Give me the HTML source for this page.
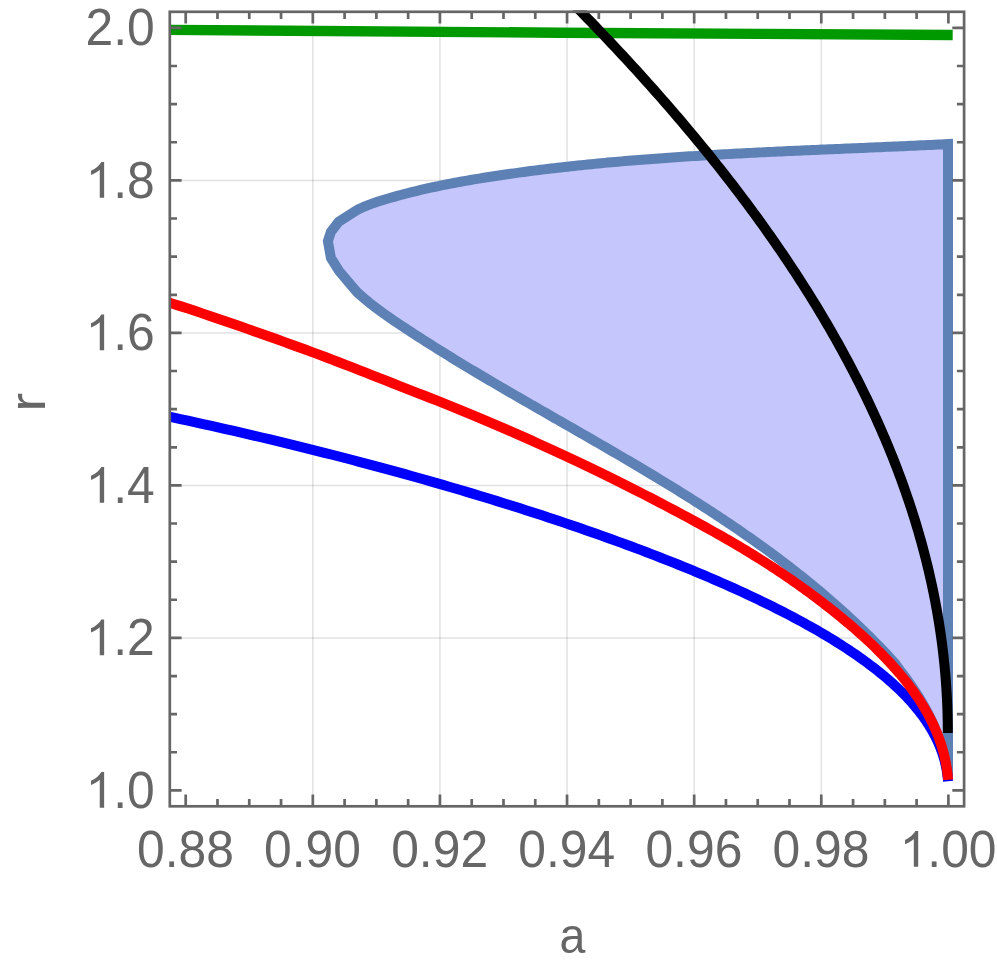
<!DOCTYPE html>
<html><head><meta charset="utf-8"><title>plot</title>
<style>html,body{margin:0;padding:0;background:#fff;}body{width:997px;height:967px;overflow:hidden;font-family:"Liberation Sans",sans-serif;}svg{display:block}</style>
</head><body>
<svg width="997" height="967" viewBox="0 0 997 967">
<rect width="997" height="967" fill="#fff"/>
<defs><clipPath id="pc"><rect x="169.8" y="10.50" width="794.3" height="795.80"/></clipPath></defs>
<path d="M312.82,11.8 V806.3 M439.93,11.8 V806.3 M567.05,11.8 V806.3 M694.17,11.8 V806.3 M821.28,11.8 V806.3" stroke="#666" stroke-opacity="0.19" stroke-width="1.5" fill="none"/>
<path d="M169.8,637.90 H964.1 M169.8,485.40 H964.1 M169.8,332.90 H964.1 M169.8,180.40 H964.1" stroke="#666" stroke-opacity="0.19" stroke-width="1.5" fill="none"/>
<g clip-path="url(#pc)" fill="none" stroke-linejoin="round">
<path d="M948.00,144.08 L944.45,144.25 L941.08,144.42 L937.71,144.58 L934.33,144.74 L930.96,144.90 L927.58,145.06 L924.20,145.22 L920.83,145.37 L917.45,145.53 L914.07,145.68 L910.68,145.83 L907.30,145.99 L903.92,146.14 L900.53,146.28 L897.14,146.43 L893.76,146.58 L890.37,146.73 L886.98,146.87 L883.59,147.02 L880.20,147.16 L876.80,147.31 L873.41,147.45 L870.02,147.59 L866.62,147.74 L863.23,147.88 L859.83,148.02 L856.43,148.17 L853.04,148.31 L849.64,148.45 L846.24,148.59 L842.84,148.74 L839.44,148.88 L836.04,149.02 L832.63,149.17 L829.23,149.31 L825.83,149.45 L822.43,149.60 L819.02,149.74 L815.62,149.89 L812.21,150.04 L808.81,150.18 L805.40,150.33 L802.00,150.48 L798.59,150.63 L795.18,150.78 L791.78,150.93 L788.37,151.09 L784.96,151.24 L781.56,151.40 L778.15,151.56 L774.74,151.71 L771.33,151.87 L767.92,152.04 L764.52,152.20 L761.11,152.37 L757.70,152.53 L754.29,152.70 L750.88,152.87 L747.47,153.04 L744.07,153.22 L740.66,153.39 L737.25,153.57 L733.84,153.75 L730.43,153.94 L727.03,154.12 L723.62,154.31 L720.21,154.50 L716.81,154.69 L713.40,154.89 L709.99,155.09 L706.59,155.29 L703.18,155.49 L699.78,155.70 L696.37,155.91 L692.97,156.12 L689.56,156.33 L686.16,156.55 L682.76,156.77 L679.36,157.00 L675.95,157.23 L672.55,157.46 L669.15,157.69 L665.75,157.93 L662.35,158.17 L658.96,158.42 L655.56,158.67 L652.16,158.92 L648.77,159.18 L645.37,159.44 L641.97,159.70 L638.58,159.97 L635.19,160.25 L631.80,160.52 L628.41,160.80 L625.01,161.09 L621.63,161.38 L618.24,161.67 L614.85,161.97 L611.46,162.27 L608.08,162.58 L604.69,162.89 L601.31,163.21 L597.93,163.53 L594.55,163.86 L591.17,164.19 L587.79,164.53 L584.41,164.87 L581.04,165.22 L577.66,165.57 L574.29,165.93 L570.92,166.29 L567.55,166.66 L564.18,167.03 L560.81,167.41 L557.45,167.79 L554.08,168.18 L550.72,168.58 L547.36,168.98 L544.00,169.39 L540.64,169.80 L537.28,170.22 L533.92,170.64 L530.57,171.08 L527.22,171.51 L523.87,171.96 L520.52,172.41 L517.17,172.86 L513.83,173.33 L510.48,173.79 L507.14,174.27 L503.80,174.75 L500.46,175.24 L497.13,175.74 L493.79,176.24 L490.46,176.75 L487.13,177.27 L483.80,177.80 L480.47,178.33 L477.14,178.88 L473.82,179.43 L470.49,180.00 L467.16,180.57 L463.84,181.16 L460.52,181.76 L457.19,182.37 L453.87,182.99 L450.55,183.63 L447.22,184.27 L443.90,184.94 L440.58,185.61 L437.25,186.30 L433.93,187.01 L430.61,187.73 L427.28,188.47 L423.95,189.22 L420.63,189.99 L417.30,190.78 L413.97,191.59 L410.64,192.41 L407.31,193.25 L403.97,194.11 L400.64,194.99 L397.30,195.89 L393.96,196.82 L390.62,197.76 L387.27,198.72 L383.93,199.71 L380.60,200.73 L377.28,201.79 L373.98,202.90 L370.72,204.08 L367.49,205.31 L364.30,206.62 L361.17,208.02 L358.10,209.50 L355.50,211.10 L338.70,221.70 L330.90,231.90 L327.90,241.20 L330.90,258.00 L339.00,270.90 L352.20,286.40 L356.90,291.91 L359.42,294.22 L361.97,296.49 L364.55,298.71 L367.16,300.89 L369.80,303.03 L372.46,305.14 L375.15,307.21 L377.86,309.25 L380.59,311.27 L383.34,313.26 L386.10,315.22 L388.88,317.17 L391.67,319.10 L394.47,321.01 L397.29,322.90 L400.11,324.79 L402.93,326.67 L405.76,328.54 L408.59,330.40 L411.43,332.26 L414.27,334.11 L417.12,335.95 L419.97,337.79 L422.83,339.62 L425.68,341.45 L428.55,343.27 L431.41,345.08 L434.28,346.89 L437.16,348.69 L440.03,350.49 L442.91,352.28 L445.80,354.06 L448.69,355.85 L451.58,357.62 L454.47,359.39 L457.37,361.16 L460.27,362.92 L463.17,364.68 L466.07,366.43 L468.98,368.18 L471.89,369.93 L474.81,371.67 L477.72,373.41 L480.64,375.15 L483.56,376.88 L486.49,378.61 L489.41,380.33 L492.34,382.05 L495.27,383.77 L498.20,385.49 L501.14,387.20 L504.07,388.92 L507.01,390.63 L509.95,392.33 L512.89,394.04 L515.83,395.74 L518.78,397.45 L521.72,399.15 L524.67,400.84 L527.62,402.54 L530.57,404.24 L533.52,405.94 L536.47,407.63 L539.42,409.32 L542.37,411.02 L545.33,412.71 L548.28,414.40 L551.24,416.10 L554.19,417.79 L557.15,419.48 L560.11,421.17 L563.06,422.87 L566.02,424.56 L568.98,426.25 L571.94,427.95 L574.89,429.64 L577.85,431.34 L580.81,433.04 L583.76,434.74 L586.72,436.44 L589.68,438.14 L592.63,439.84 L595.59,441.55 L598.54,443.25 L601.49,444.96 L604.44,446.67 L607.39,448.38 L610.34,450.10 L613.29,451.81 L616.24,453.53 L619.18,455.25 L622.13,456.97 L625.07,458.70 L628.01,460.43 L630.95,462.16 L633.89,463.89 L636.82,465.63 L639.75,467.37 L642.69,469.12 L645.61,470.86 L648.54,472.62 L651.46,474.37 L654.38,476.13 L657.30,477.89 L660.22,479.66 L663.13,481.43 L666.04,483.20 L668.95,484.98 L671.85,486.76 L674.75,488.55 L677.65,490.34 L680.54,492.14 L683.43,493.94 L686.32,495.75 L689.20,497.56 L692.08,499.38 L694.95,501.20 L697.82,503.03 L700.69,504.86 L703.55,506.70 L706.41,508.54 L709.27,510.39 L712.12,512.25 L714.96,514.11 L717.80,515.98 L720.64,517.85 L723.47,519.73 L726.30,521.62 L729.12,523.52 L731.93,525.42 L734.74,527.32 L737.55,529.24 L740.35,531.16 L743.15,533.09 L745.94,535.02 L748.72,536.96 L751.50,538.91 L754.27,540.87 L757.04,542.84 L759.80,544.81 L762.55,546.79 L765.30,548.78 L768.04,550.78 L770.77,552.78 L773.50,554.80 L776.22,556.82 L778.94,558.85 L781.65,560.89 L784.35,562.94 L787.05,564.99 L789.73,567.06 L792.41,569.13 L795.09,571.22 L797.75,573.31 L800.41,575.42 L803.06,577.53 L805.71,579.65 L808.34,581.78 L810.97,583.92 L813.59,586.07 L816.20,588.23 L818.81,590.41 L821.40,592.59 L823.99,594.78 L826.57,596.98 L829.14,599.20 L831.70,601.42 L834.26,603.65 L836.80,605.90 L839.34,608.16 L841.86,610.43 L844.38,612.70 L846.89,614.99 L849.39,617.30 L851.88,619.61 L854.36,621.94 L856.84,624.27 L859.30,626.62 L861.75,628.98 L864.19,631.36 L866.63,633.74 L869.05,636.14 L871.46,638.55 L873.86,640.97 L876.26,643.41 L878.64,645.85 L881.01,648.31 L883.37,650.79 L885.72,653.28 L888.06,655.78 L890.39,658.29 L892.71,660.82 L895.02,663.36 L900.00,670.26 L901.42,672.10 L902.82,673.92 L904.19,675.75 L905.55,677.58 L906.88,679.40 L908.20,681.22 L909.49,683.03 L910.76,684.85 L912.01,686.66 L913.24,688.47 L914.45,690.28 L915.64,692.09 L916.80,693.89 L917.95,695.69 L919.07,697.49 L920.17,699.29 L921.25,701.09 L922.31,702.88 L923.35,704.68 L924.37,706.47 L925.37,708.26 L926.34,710.05 L927.30,711.84 L928.23,713.62 L929.14,715.41 L930.04,717.19 L930.91,718.97 L931.75,720.75 L932.58,722.53 L933.39,724.31 L934.18,726.09 L934.94,727.87 L935.68,729.64 L936.41,731.42 L937.11,733.19 L937.79,734.97 L938.45,736.74 L939.08,738.51 L939.70,740.28 L940.30,742.03 L940.87,743.74 L941.42,745.46 L941.96,747.18 L942.47,748.90 L942.96,750.62 L943.43,752.35 L943.87,754.07 L944.30,755.80 L944.71,757.53 L945.09,759.27 L945.45,761.00 L945.80,762.74 L946.12,764.48 L946.42,766.22 L946.70,767.97 L946.95,769.72 L947.19,771.47 L947.41,773.22 L947.60,774.98 L948.00,776.00 Z" fill="#c5c7fc" stroke="#5e81b5" stroke-width="10.0" stroke-linejoin="miter"/>
<path d="M165.00,415.78 L172.69,417.42 L180.34,419.06 L187.95,420.71 L195.52,422.36 L203.06,424.02 L210.56,425.69 L218.02,427.36 L225.44,429.04 L232.82,430.72 L240.17,432.41 L247.48,434.10 L254.75,435.80 L261.98,437.50 L269.18,439.21 L276.33,440.92 L283.45,442.64 L290.53,444.36 L297.57,446.09 L304.58,447.82 L311.55,449.55 L318.48,451.29 L325.37,453.03 L332.22,454.77 L339.04,456.52 L345.82,458.28 L352.56,460.03 L359.26,461.79 L365.92,463.55 L372.55,465.32 L379.14,467.09 L385.69,468.86 L392.20,470.63 L398.67,472.41 L405.11,474.18 L411.51,475.97 L417.87,477.75 L424.19,479.54 L430.48,481.32 L436.72,483.11 L442.93,484.91 L449.10,486.70 L455.24,488.50 L461.33,490.29 L467.39,492.09 L473.41,493.90 L479.39,495.70 L485.34,497.50 L491.24,499.31 L497.11,501.12 L502.94,502.92 L508.73,504.73 L514.49,506.54 L520.20,508.36 L525.88,510.17 L531.52,511.98 L537.12,513.80 L542.69,515.61 L548.22,517.43 L553.71,519.24 L559.16,521.06 L564.57,522.88 L569.95,524.70 L575.28,526.52 L580.58,528.34 L585.84,530.16 L591.07,531.98 L596.25,533.80 L601.40,535.62 L606.51,537.44 L611.58,539.26 L616.62,541.08 L621.61,542.90 L626.57,544.73 L631.49,546.55 L636.37,548.37 L641.22,550.19 L646.03,552.01 L650.79,553.83 L655.53,555.66 L660.22,557.48 L664.87,559.30 L669.49,561.12 L674.07,562.94 L678.61,564.76 L683.12,566.58 L687.58,568.40 L692.01,570.22 L696.40,572.05 L700.75,573.87 L705.06,575.69 L709.34,577.50 L713.58,579.32 L717.78,581.14 L721.94,582.96 L726.07,584.78 L730.15,586.60 L734.20,588.42 L738.21,590.24 L742.18,592.05 L746.12,593.87 L750.02,595.69 L753.87,597.51 L757.70,599.32 L761.48,601.14 L765.22,602.96 L768.93,604.77 L772.60,606.59 L776.23,608.41 L779.83,610.22 L783.38,612.04 L786.90,613.86 L790.38,615.67 L793.82,617.49 L797.23,619.31 L800.59,621.12 L803.92,622.94 L807.21,624.76 L810.47,626.58 L813.68,628.39 L816.86,630.21 L820.00,632.03 L823.10,633.85 L826.16,635.67 L829.19,637.49 L832.17,639.31 L835.12,641.13 L838.03,642.95 L840.91,644.78 L843.74,646.60 L846.54,648.42 L849.30,650.25 L852.02,652.07 L854.71,653.90 L857.35,655.73 L859.96,657.56 L862.53,659.39 L865.06,661.22 L867.56,663.05 L870.01,664.89 L872.43,666.72 L874.81,668.56 L877.16,670.40 L879.46,672.24 L881.73,674.08 L883.96,675.93 L886.15,677.77 L888.30,679.62 L890.42,681.47 L892.50,683.33 L894.54,685.18 L896.54,687.04 L898.50,688.90 L900.43,690.76 L902.32,692.63 L904.17,694.50 L905.98,696.37 L907.75,698.24 L909.49,700.12 L911.19,702.00 L912.85,703.88 L914.47,705.77 L916.06,707.66 L917.60,709.55 L919.11,711.45 L920.58,713.35 L922.02,715.26 L923.41,717.17 L924.77,719.08 L926.09,721.00 L927.37,722.92 L928.61,724.85 L929.82,726.78 L930.99,728.72 L932.12,730.66 L933.21,732.61 L934.26,734.56 L935.28,736.52 L936.26,738.48 L937.20,740.45 L938.10,742.42 L938.97,744.40 L939.79,746.38 L940.58,748.38 L941.33,750.37 L942.05,752.38 L942.72,754.39 L943.36,756.41 L943.96,758.43 L944.52,760.46 L945.04,762.50 L945.53,764.55 L945.98,766.60 L946.39,768.66 L946.76,770.73 L947.09,772.81 L947.39,774.89 L947.65,776.99 L947.87,779.09 L948.05,781.20" stroke="#0000ff" stroke-width="10.0"/>
<path d="M165.00,301.21 L172.68,303.65 L180.33,306.12 L187.93,308.60 L195.50,311.10 L203.03,313.62 L210.52,316.15 L217.98,318.69 L225.40,321.23 L232.77,323.78 L240.12,326.33 L247.42,328.88 L254.68,331.43 L261.91,333.98 L269.10,336.53 L276.25,339.08 L283.37,341.63 L290.45,344.18 L297.48,346.73 L304.48,349.29 L311.45,351.86 L318.37,354.44 L325.26,357.03 L332.11,359.62 L338.92,362.23 L345.69,364.84 L352.43,367.46 L359.13,370.08 L365.79,372.69 L372.41,375.30 L378.99,377.89 L385.54,380.47 L392.05,383.02 L398.52,385.56 L404.95,388.08 L411.35,390.57 L417.70,393.06 L424.02,395.53 L430.30,397.99 L436.55,400.45 L442.75,402.91 L448.92,405.37 L455.05,407.84 L461.14,410.31 L467.20,412.79 L473.22,415.28 L479.19,417.77 L485.13,420.28 L491.04,422.79 L496.90,425.30 L502.73,427.82 L508.52,430.33 L514.27,432.85 L519.98,435.38 L525.66,437.90 L531.30,440.42 L536.90,442.94 L542.46,445.46 L547.99,447.98 L553.47,450.49 L558.92,453.01 L564.33,455.52 L569.71,458.03 L575.04,460.54 L580.34,463.05 L585.60,465.55 L590.82,468.05 L596.00,470.55 L601.15,473.05 L606.26,475.54 L611.33,478.03 L616.36,480.51 L621.35,483.00 L626.31,485.48 L631.23,487.95 L636.11,490.42 L640.95,492.89 L645.76,495.34 L650.53,497.80 L655.26,500.25 L659.95,502.69 L664.60,505.13 L669.22,507.56 L673.80,509.98 L678.34,512.39 L682.84,514.80 L687.30,517.20 L691.73,519.60 L696.12,521.99 L700.47,524.37 L704.78,526.75 L709.06,529.12 L713.30,531.49 L717.50,533.86 L721.66,536.22 L725.78,538.58 L729.87,540.94 L733.92,543.30 L737.93,545.66 L741.90,548.03 L745.84,550.39 L749.73,552.76 L753.59,555.13 L757.41,557.50 L761.20,559.88 L764.94,562.26 L768.65,564.64 L772.32,567.02 L775.95,569.41 L779.55,571.80 L783.10,574.19 L786.62,576.58 L790.10,578.97 L793.54,581.36 L796.95,583.76 L800.32,586.15 L803.64,588.53 L806.94,590.92 L810.19,593.30 L813.41,595.68 L816.58,598.06 L819.72,600.44 L822.83,602.81 L825.89,605.17 L828.92,607.53 L831.90,609.89 L834.86,612.24 L837.77,614.59 L840.64,616.93 L843.48,619.27 L846.28,621.60 L849.04,623.93 L851.76,626.26 L854.45,628.58 L857.10,630.90 L859.71,633.21 L862.28,635.52 L864.81,637.83 L867.31,640.13 L869.77,642.43 L872.19,644.73 L874.57,647.02 L876.92,649.31 L879.23,651.60 L881.50,653.89 L883.73,656.17 L885.92,658.45 L888.08,660.73 L890.19,663.01 L892.27,665.28 L894.32,667.56 L896.32,669.83 L898.29,672.10 L900.22,674.37 L902.11,676.64 L903.96,678.91 L905.78,681.18 L907.55,683.44 L909.29,685.71 L910.99,687.97 L912.66,690.24 L914.28,692.51 L915.87,694.77 L917.42,697.04 L918.93,699.30 L920.41,701.57 L921.85,703.83 L923.25,706.10 L924.61,708.37 L925.93,710.64 L927.21,712.91 L928.46,715.18 L929.67,717.45 L930.84,719.72 L931.98,722.00 L933.07,724.28 L934.13,726.56 L935.15,728.84 L936.13,731.12 L937.08,733.40 L937.99,735.69 L938.85,737.98 L939.69,740.27 L940.48,742.57 L941.23,744.87 L941.95,747.17 L942.63,749.47 L943.27,751.78 L943.88,754.09 L944.44,756.41 L944.97,758.72 L945.46,761.05 L945.92,763.37 L946.33,765.71 L946.71,768.04 L947.05,770.38 L947.35,772.73 L947.61,775.08 L947.84,777.44 L948.02,779.80" stroke="#ff0000" stroke-width="10.0"/>
<path d="M165,29.8 L560,32.7 L760,33.9 L952.7,35.0" stroke="#009900" stroke-width="10.4"/>
<path d="M569.52,0.00 L573.17,3.68 L576.80,7.37 L580.41,11.05 L584.01,14.73 L587.59,18.42 L591.16,22.10 L594.71,25.78 L598.25,29.47 L601.77,33.15 L605.28,36.83 L608.77,40.52 L612.24,44.20 L615.70,47.88 L619.14,51.57 L622.57,55.25 L625.98,58.93 L629.38,62.62 L632.75,66.30 L636.12,69.98 L639.46,73.67 L642.79,77.35 L646.11,81.04 L649.41,84.72 L652.69,88.40 L655.96,92.09 L659.20,95.77 L662.44,99.45 L665.65,103.14 L668.85,106.82 L672.04,110.50 L675.20,114.19 L678.36,117.87 L681.49,121.55 L684.61,125.24 L687.71,128.92 L690.79,132.60 L693.86,136.29 L696.91,139.97 L699.94,143.65 L702.96,147.34 L705.95,151.02 L708.94,154.70 L711.90,158.39 L714.85,162.07 L717.78,165.75 L720.69,169.44 L723.59,173.12 L726.47,176.80 L729.33,180.49 L732.18,184.17 L735.00,187.85 L737.81,191.54 L740.60,195.22 L743.38,198.90 L746.14,202.59 L748.88,206.27 L751.60,209.95 L754.30,213.64 L756.99,217.32 L759.66,221.01 L762.31,224.69 L764.95,228.37 L767.56,232.06 L770.16,235.74 L772.74,239.42 L775.30,243.11 L777.85,246.79 L780.38,250.47 L782.89,254.16 L785.38,257.84 L787.85,261.52 L790.30,265.21 L792.74,268.89 L795.16,272.57 L797.56,276.26 L799.94,279.94 L802.31,283.62 L804.65,287.31 L806.98,290.99 L809.29,294.67 L811.58,298.36 L813.86,302.04 L816.11,305.72 L818.35,309.41 L820.56,313.09 L822.76,316.77 L824.94,320.46 L827.11,324.14 L829.25,327.82 L831.37,331.51 L833.48,335.19 L835.57,338.87 L837.64,342.56 L839.69,346.24 L841.72,349.92 L843.73,353.61 L845.73,357.29 L847.70,360.97 L849.66,364.66 L851.60,368.34 L853.52,372.03 L855.42,375.71 L857.30,379.39 L859.16,383.08 L861.01,386.76 L862.83,390.44 L864.64,394.13 L866.43,397.81 L868.19,401.49 L869.94,405.18 L871.67,408.86 L873.39,412.54 L875.08,416.23 L876.75,419.91 L878.40,423.59 L880.04,427.28 L881.65,430.96 L883.25,434.64 L884.83,438.33 L886.39,442.01 L887.92,445.69 L889.44,449.38 L890.94,453.06 L892.43,456.74 L893.89,460.43 L895.33,464.11 L896.75,467.79 L898.16,471.48 L899.54,475.16 L900.91,478.84 L902.25,482.53 L903.58,486.21 L904.88,489.89 L906.17,493.58 L907.44,497.26 L908.69,500.94 L909.92,504.63 L911.13,508.31 L912.32,511.99 L913.49,515.68 L914.64,519.36 L915.77,523.05 L916.88,526.73 L917.98,530.41 L919.05,534.10 L920.10,537.78 L921.14,541.46 L922.15,545.15 L923.15,548.83 L924.12,552.51 L925.08,556.20 L926.02,559.88 L926.93,563.56 L927.83,567.25 L928.71,570.93 L929.56,574.61 L930.40,578.30 L931.22,581.98 L932.02,585.66 L932.80,589.35 L933.56,593.03 L934.30,596.71 L935.02,600.40 L935.72,604.08 L936.40,607.76 L937.06,611.45 L937.70,615.13 L938.32,618.81 L938.92,622.50 L939.50,626.18 L940.07,629.86 L940.61,633.55 L941.13,637.23 L941.64,640.91 L942.12,644.60 L942.58,648.28 L943.03,651.96 L943.45,655.65 L943.86,659.33 L944.24,663.02 L944.61,666.70 L944.95,670.38 L945.28,674.07 L945.58,677.75 L945.87,681.43 L946.13,685.12 L946.38,688.80 L946.61,692.48 L946.81,696.17 L947.00,699.85 L947.17,703.53 L947.32,707.22 L947.45,710.90 L947.55,714.58 L947.64,718.27 L947.71,721.95 L947.76,725.63 L947.79,729.32 L947.80,733.00" stroke="#000" stroke-width="10.0"/>
</g>
<rect x="169.8" y="11.8" width="794.30" height="794.50" fill="none" stroke="#666" stroke-width="2.7"/>
<path d="M185.70,806.3 v-11.8 M185.70,11.8 v11.8 M217.48,806.3 v-7.2 M217.48,11.8 v7.2 M249.26,806.3 v-7.2 M249.26,11.8 v7.2 M281.04,806.3 v-7.2 M281.04,11.8 v7.2 M312.82,806.3 v-11.8 M312.82,11.8 v11.8 M344.60,806.3 v-7.2 M344.60,11.8 v7.2 M376.38,806.3 v-7.2 M376.38,11.8 v7.2 M408.15,806.3 v-7.2 M408.15,11.8 v7.2 M439.93,806.3 v-11.8 M439.93,11.8 v11.8 M471.71,806.3 v-7.2 M471.71,11.8 v7.2 M503.49,806.3 v-7.2 M503.49,11.8 v7.2 M535.27,806.3 v-7.2 M535.27,11.8 v7.2 M567.05,806.3 v-11.8 M567.05,11.8 v11.8 M598.83,806.3 v-7.2 M598.83,11.8 v7.2 M630.61,806.3 v-7.2 M630.61,11.8 v7.2 M662.39,806.3 v-7.2 M662.39,11.8 v7.2 M694.17,806.3 v-11.8 M694.17,11.8 v11.8 M725.95,806.3 v-7.2 M725.95,11.8 v7.2 M757.72,806.3 v-7.2 M757.72,11.8 v7.2 M789.50,806.3 v-7.2 M789.50,11.8 v7.2 M821.28,806.3 v-11.8 M821.28,11.8 v11.8 M853.06,806.3 v-7.2 M853.06,11.8 v7.2 M884.84,806.3 v-7.2 M884.84,11.8 v7.2 M916.62,806.3 v-7.2 M916.62,11.8 v7.2 M948.40,806.3 v-11.8 M948.40,11.8 v11.8 M169.8,790.40 h11.8 M964.1,790.40 h-11.8 M169.8,752.27 h7.2 M964.1,752.27 h-7.2 M169.8,714.15 h7.2 M964.1,714.15 h-7.2 M169.8,676.03 h7.2 M964.1,676.03 h-7.2 M169.8,637.90 h11.8 M964.1,637.90 h-11.8 M169.8,599.77 h7.2 M964.1,599.77 h-7.2 M169.8,561.65 h7.2 M964.1,561.65 h-7.2 M169.8,523.52 h7.2 M964.1,523.52 h-7.2 M169.8,485.40 h11.8 M964.1,485.40 h-11.8 M169.8,447.28 h7.2 M964.1,447.28 h-7.2 M169.8,409.15 h7.2 M964.1,409.15 h-7.2 M169.8,371.02 h7.2 M964.1,371.02 h-7.2 M169.8,332.90 h11.8 M964.1,332.90 h-11.8 M169.8,294.78 h7.2 M964.1,294.78 h-7.2 M169.8,256.65 h7.2 M964.1,256.65 h-7.2 M169.8,218.52 h7.2 M964.1,218.52 h-7.2 M169.8,180.40 h11.8 M964.1,180.40 h-11.8 M169.8,142.27 h7.2 M964.1,142.27 h-7.2 M169.8,104.15 h7.2 M964.1,104.15 h-7.2 M169.8,66.02 h7.2 M964.1,66.02 h-7.2 M169.8,27.90 h11.8 M964.1,27.90 h-11.8" stroke="#666" stroke-width="2.7" fill="none"/>
<g font-family="Liberation Sans, sans-serif" font-size="49.8" fill="#666">
<text transform="translate(136.94,866.80) scale(1,1.04)">0.88</text>
<text transform="translate(264.06,866.80) scale(1,1.04)">0.90</text>
<text transform="translate(391.18,866.80) scale(1,1.04)">0.92</text>
<text transform="translate(518.29,866.80) scale(1,1.04)">0.94</text>
<text transform="translate(645.41,866.80) scale(1,1.04)">0.96</text>
<text transform="translate(772.53,866.80) scale(1,1.04)">0.98</text>
<path transform="translate(899.64,866.80) scale(0.024316,-0.024316)" d="M763 0H583V1147Q518 1085 412.5 1023Q307 961 223 930V1104Q374 1175 487 1276Q600 1377 647 1472H763Z"/>
<text transform="translate(996.56,866.80) scale(1,1.04)" text-anchor="end">.00</text>
<path transform="translate(85.58,807.70) scale(0.024316,-0.024316)" d="M763 0H583V1147Q518 1085 412.5 1023Q307 961 223 930V1104Q374 1175 487 1276Q600 1377 647 1472H763Z"/>
<text transform="translate(154.80,807.70) scale(1,1.04)" text-anchor="end">.0</text>
<path transform="translate(85.58,655.20) scale(0.024316,-0.024316)" d="M763 0H583V1147Q518 1085 412.5 1023Q307 961 223 930V1104Q374 1175 487 1276Q600 1377 647 1472H763Z"/>
<text transform="translate(154.80,655.20) scale(1,1.04)" text-anchor="end">.2</text>
<path transform="translate(85.58,502.70) scale(0.024316,-0.024316)" d="M763 0H583V1147Q518 1085 412.5 1023Q307 961 223 930V1104Q374 1175 487 1276Q600 1377 647 1472H763Z"/>
<text transform="translate(154.80,502.70) scale(1,1.04)" text-anchor="end">.4</text>
<path transform="translate(85.58,350.20) scale(0.024316,-0.024316)" d="M763 0H583V1147Q518 1085 412.5 1023Q307 961 223 930V1104Q374 1175 487 1276Q600 1377 647 1472H763Z"/>
<text transform="translate(154.80,350.20) scale(1,1.04)" text-anchor="end">.6</text>
<path transform="translate(85.58,197.70) scale(0.024316,-0.024316)" d="M763 0H583V1147Q518 1085 412.5 1023Q307 961 223 930V1104Q374 1175 487 1276Q600 1377 647 1472H763Z"/>
<text transform="translate(154.80,197.70) scale(1,1.04)" text-anchor="end">.8</text>
<text transform="translate(85.58,45.20) scale(1,1.04)">2.0</text>
<text transform="translate(572.50,952.50) scale(0.935,1.0)" text-anchor="middle">a</text>
<text transform="translate(44.80,402.20) rotate(-90) scale(1.14,0.99)" text-anchor="middle">r</text>
</g>
</svg>
</body></html>
